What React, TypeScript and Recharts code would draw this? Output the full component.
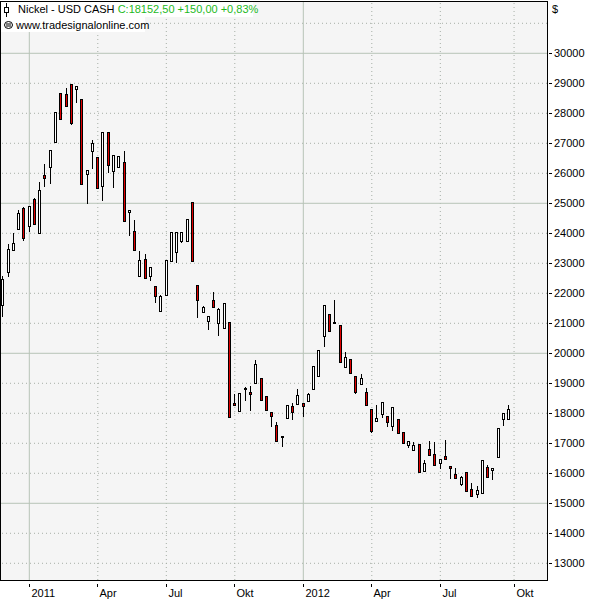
import React from 'react';
import { ComposedChart, Bar, XAxis, YAxis, ReferenceLine } from 'recharts';

// weekly Nickel candles, late Nov 2010 .. Sep 2012
const OPEN = [
  21600, 22720, 23430, 24130, 24830, 24230, 25130, 24000, 25930, 26220,
  27030, 28670, 28630, 28970, 28800, 28470, 25970, 26730, 26530, 25570,
  27370, 26070, 26200, 26370, 24700, 24070, 22570, 23130, 22570, 22230,
  21400, 21930, 23070, 23370, 23730, 23730, 25030, 22270, 21370, 21070,
  21770, 21000, 20830, 21050, 18340, 18080, 18840, 18710, 19010, 19180,
  18580, 18040, 17610, 17250, 17840, 18240, 18310, 18340, 18410, 18810,
  19240, 20580, 21310, 21040, 20940, 19540, 19810, 19240, 18980, 18710,
  18140, 17740, 17980, 17910, 17580, 17810, 17380, 16940, 16770, 16970,
  16070, 16800, 16630, 16330, 16570, 16230, 15970, 15630, 16030, 15470,
  15300, 15330, 16200, 16100, 16530, 17800, 17800,
];
const HIGH = [
  22580, 23640, 24020, 24780, 24870, 24900, 25160, 25710, 26310, 26770,
  28030, 28670, 28830, 28970, 28900, 28470, 26100, 27100, 26530, 27370,
  27370, 26600, 26570, 26730, 24770, 24440, 23400, 23300, 22870, 22230,
  21930, 23100, 24030, 24030, 24030, 24470, 25030, 22270, 21570, 21230,
  22030, 21500, 21660, 21050, 18640, 18680, 18880, 18910, 19780, 19180,
  18580, 18040, 17710, 17250, 18280, 18340, 18810, 18340, 18680, 19580,
  20110, 21610, 21310, 21780, 20940, 20040, 19810, 19240, 19310, 18840,
  18140, 18280, 18380, 17910, 18210, 17810, 17380, 17080, 17040, 16970,
  16430, 17070, 17030, 16470, 17100, 16230, 16170, 15900, 16030, 15670,
  15570, 16430, 16270, 16170, 17500, 18000, 18270,
];
const LOW = [
  21240, 22560, 23430, 24130, 23760, 24060, 24300, 24000, 25590, 25690,
  27030, 27800, 28230, 27630, 28390, 25630, 25020, 26160, 25500, 25100,
  26030, 25530, 26200, 24400, 23930, 23430, 22570, 22500, 22430, 21700,
  21400, 21930, 23070, 23030, 23700, 23730, 23070, 21200, 21370, 20800,
  21530, 20600, 20830, 17880, 18280, 18080, 18440, 18110, 19010, 18440,
  18110, 17580, 17080, 16910, 17840, 17810, 18310, 17910, 18410, 18810,
  19240, 20240, 20740, 21010, 19710, 19540, 19340, 18680, 18980, 18280,
  17380, 17740, 17880, 17580, 17440, 17340, 17010, 16880, 16770, 16030,
  16070, 16600, 16270, 16170, 16470, 15830, 15830, 15600, 15400, 15230,
  15200, 15330, 15870, 15800, 16530, 17600, 17800,
];
const CLOSE = [
  22470, 23480, 23680, 24670, 23830, 24900, 24300, 25430, 25830, 26770,
  28030, 27800, 28230, 27670, 28900, 25630, 26100, 27000, 25500, 27370,
  26270, 26600, 26570, 24400, 24760, 23430, 23100, 22500, 22870, 21900,
  21900, 23100, 24030, 24030, 24030, 24470, 23070, 21770, 21530, 21230,
  21530, 21470, 21660, 17880, 18280, 18680, 18800, 18640, 19640, 18440,
  18110, 17910, 17080, 17240, 18280, 18040, 18610, 18240, 18640, 19580,
  20110, 21610, 20740, 21010, 19710, 19880, 19340, 18710, 19180, 18280,
  17410, 17840, 18380, 17710, 18210, 17340, 17010, 17080, 16950, 16030,
  16330, 16600, 16270, 16470, 16470, 16170, 15830, 15870, 15400, 15230,
  15430, 16430, 15870, 16170, 17500, 18000, 18150,
];

// x ticks sit on the first week of each quarter
const X_TICKS = [5, 18, 31, 44, 57, 70, 83, 97];
const X_LABELS = ['2011', 'Apr', 'Jul', 'Okt', '2012', 'Apr', 'Jul', 'Okt'];
const YEAR_TICKS = [5, 57];

const Y_TICKS = [
  13000, 14000, 15000, 16000, 17000, 18000, 19000, 20000, 21000,
  22000, 23000, 24000, 25000, 26000, 27000, 28000, 29000, 30000,
];
const GRID_LEVELS = [...Y_TICKS, 31000];
const MAJOR_LEVELS = [15000, 20000, 25000, 30000];

const data = OPEN.map((o, i) => ({
  idx: i,
  open: o,
  high: HIGH[i],
  low: LOW[i],
  close: CLOSE[i],
}));

const FONT = '"Liberation Sans", Arial, sans-serif';
const MAJOR = '#B7C4B7';
const MINOR = '#A6AEA6';

function Candle(props: any) {
  const { x, y, width, height, payload } = props;
  if (!payload) return null;
  const { open, close, high, low } = payload;
  const top = Math.min(y, y + height);
  const h = Math.abs(height);
  const span = high - low || 1;
  const py = (v: number) => top + ((high - v) / span) * h;
  const cx = Math.floor(x + width / 2) + 0.5;
  const bTop = Math.round(py(Math.max(open, close))) + 0.5;
  const bBot = Math.round(py(Math.min(open, close))) + 0.5;
  const up = close >= open;
  return (
    <g>
      <line x1={cx} x2={cx} y1={Math.round(top)} y2={Math.round(top + h) + 1} stroke="#000" strokeWidth={1} />
      <rect
        x={cx - 1}
        y={bTop}
        width={2}
        height={Math.max(bBot - bTop, 1)}
        fill={up ? '#FFFFFF' : '#E00000'}
        stroke="#000"
        strokeWidth={1}
      />
    </g>
  );
}

function XTick({ x, y, payload }: any) {
  const i = X_TICKS.indexOf(payload.value);
  const lx = Math.floor(x) + 0.5;
  return (
    <g>
      <line x1={lx} x2={lx} y1={y + 4} y2={y + 7} stroke="#000" />
      <text x={lx + 2} y={y + 17} fontSize={11} fontFamily={FONT} fill="#000">
        {X_LABELS[i]}
      </text>
    </g>
  );
}

function YTick({ x, y, payload }: any) {
  const ly = Math.floor(y) + 0.5;
  return (
    <g>
      <line x1={x + 2} x2={x + 5} y1={ly} y2={ly} stroke="#000" />
      <text x={x + 7} y={y + 4} fontSize={11} fontFamily={FONT} fill="#000">
        {payload.value}
      </text>
    </g>
  );
}

export default function App() {
  return (
    <div style={{ position: 'absolute', left: 0, top: 0, width: 595, height: 600, background: '#fff', fontFamily: FONT }}>
      <div style={{ position: 'absolute', left: 1, top: 1, width: 546, height: 579, background: '#F5F5F5' }} />
      <div style={{ position: 'absolute', left: 0, top: 0 }}>
        <ComposedChart width={595} height={600} data={data} margin={{ top: 1, right: 0, bottom: 0, left: 1 }}>
          <XAxis
            dataKey="idx"
            type="number"
            domain={[-0.372, 103.25]}
            allowDataOverflow
            ticks={X_TICKS}
            interval={0}
            axisLine={false}
            tickLine={false}
            tickSize={0}
            tickMargin={0}
            height={20}
            tick={<XTick />}
          />
          <YAxis
            orientation="right"
            type="number"
            domain={[12443, 31743]}
            allowDataOverflow
            ticks={Y_TICKS}
            interval={0}
            axisLine={false}
            tickLine={false}
            tickSize={0}
            tickMargin={0}
            width={48}
            tick={<YTick />}
          />
          {GRID_LEVELS.filter((v) => !MAJOR_LEVELS.includes(v)).map((v) => (
            <ReferenceLine key={'h' + v} y={v} stroke={MINOR} strokeDasharray="1 3" zIndex={-50} />
          ))}
          {X_TICKS.filter((t) => !YEAR_TICKS.includes(t)).map((t) => (
            <ReferenceLine key={'v' + t} x={t} stroke={MINOR} strokeDasharray="1 3" zIndex={-50} />
          ))}
          {MAJOR_LEVELS.map((v) => (
            <ReferenceLine key={'H' + v} y={v} stroke={MAJOR} zIndex={-40} />
          ))}
          {YEAR_TICKS.map((t) => (
            <ReferenceLine key={'V' + t} x={t} stroke={MAJOR} zIndex={-40} />
          ))}
          <Bar
            dataKey={(d: any) => [d.low, d.high]}
            barSize={5}
            shape={<Candle />}
            isAnimationActive={false}
          />
        </ComposedChart>
      </div>
      {/* plot frame */}
      <div style={{ position: 'absolute', left: 0, top: 1, width: 548, height: 580, border: '1px solid #000', boxSizing: 'border-box', pointerEvents: 'none' }} />
      {/* legend */}
      <div style={{ position: 'absolute', left: 1, top: 2, width: 252, height: 15, background: '#fff' }} />
      <div style={{ position: 'absolute', left: 1, top: 17, width: 144, height: 15, background: '#fff' }} />
      <svg style={{ position: 'absolute', left: 3, top: 3 }} width={8} height={14}>
        <line x1={3.5} x2={3.5} y1={0} y2={14} stroke="#000" />
        <rect x={1.5} y={4.5} width={4} height={5} fill="#fff" stroke="#000" />
      </svg>
      <div style={{ position: 'absolute', left: 18, top: 2, fontSize: 11, lineHeight: '14px', whiteSpace: 'nowrap' }}>
        <span style={{ color: '#000' }}>Nickel - USD CASH </span>
        <span style={{ color: '#1DB91D' }}>C:18152,50 +150,00 +0,83%</span>
      </div>
      <svg style={{ position: 'absolute', left: 4, top: 21 }} width={9} height={8}>
        <ellipse cx={4.5} cy={4} rx={4} ry={3.5} fill="none" stroke="#000" />
        <line x1={2} x2={7} y1={3} y2={3} stroke="#000" />
        <line x1={2} x2={7} y1={5} y2={5} stroke="#000" />
      </svg>
      <div style={{ position: 'absolute', left: 16, top: 18, fontSize: 11, lineHeight: '14px', color: '#000', whiteSpace: 'nowrap' }}>
        www.tradesignalonline.com
      </div>
      <div style={{ position: 'absolute', left: 552, top: 2, fontSize: 11, lineHeight: '14px', color: '#000' }}>$</div>
    </div>
  );
}
